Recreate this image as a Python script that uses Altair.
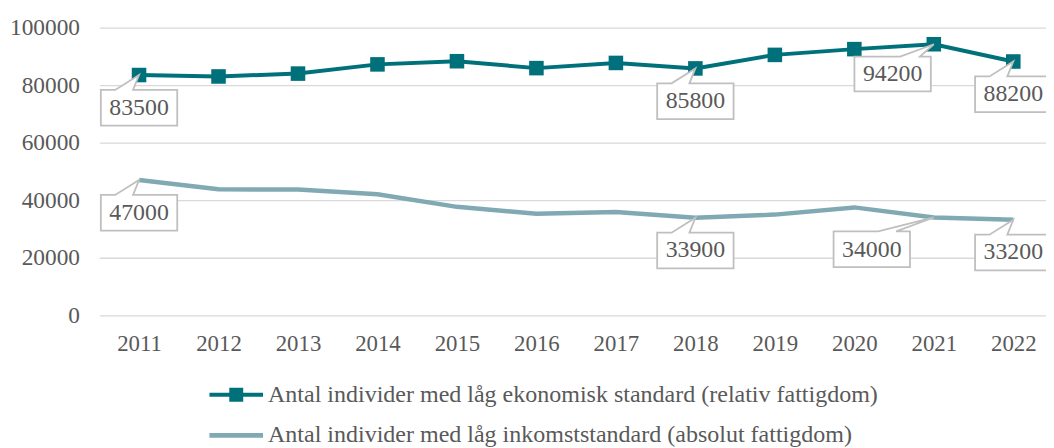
import altair as alt
import pandas as pd

years = [2011, 2012, 2013, 2014, 2015, 2016, 2017, 2018, 2019, 2020, 2021, 2022]
relative_poverty = [83500, 83000, 84000, 87200, 88300, 85900, 87700, 85800, 90500, 92500, 94200, 88200]
absolute_poverty = [47000, 43800, 43700, 42100, 37700, 35300, 35900, 33900, 35000, 37500, 34000, 33200]
series_names = [
    "Antal individer med låg ekonomisk standard (relativ fattigdom)",
    "Antal individer med låg inkomststandard (absolut fattigdom)",
]
# which points carry a value label, and where the label box sits
relative_labels = {2011: "below", 2018: "below", 2021: "left", 2022: "below"}
absolute_labels = {2011: "below", 2018: "below", 2021: "farleft", 2022: "below"}
y_ticks = [0, 20000, 40000, 60000, 80000, 100000]

TEAL = "#00707B"
GREY_BLUE = "#80A9B3"
TEXT = "#595959"
FONT = "Liberation Serif"

rel = pd.DataFrame({"year": years, "value": relative_poverty})
ab = pd.DataFrame({"year": years, "value": absolute_poverty})

labels = pd.DataFrame(
    [{"year": y, "value": relative_poverty[years.index(y)], "pos": p} for y, p in relative_labels.items()]
    + [{"year": y, "value": absolute_poverty[years.index(y)], "pos": p} for y, p in absolute_labels.items()]
)

px_per_year = 80.09
W, H = 954, 290
x_scale = alt.Scale(domain=[2010.5, 2010.5 + W / px_per_year], nice=False, zero=False)
y_scale = alt.Scale(domain=[0, 100000], nice=False)

X = alt.X("year:Q", scale=x_scale,
          axis=alt.Axis(values=years, format="d", title=None, grid=False, domain=False,
                        ticks=False, tickSize=0, labelPadding=17, labelFontSize=23,
                        labelFont=FONT, labelColor=TEXT))
Y = alt.Y("value:Q", scale=y_scale,
          axis=alt.Axis(values=y_ticks, format="d", title=None, domain=False, ticks=False,
                        tickSize=0, labelPadding=20, labelFontSize=23.5, labelFont=FONT,
                        labelColor=TEXT, grid=True, gridColor="#D9D9D9", gridWidth=1.3))

line_abs = alt.Chart(ab).mark_line(color=GREY_BLUE, strokeWidth=4.5).encode(x=X, y=Y)
line_rel = alt.Chart(rel).mark_line(color=TEAL, strokeWidth=4).encode(x=X, y=Y)
pts_rel = alt.Chart(rel).mark_point(shape="square", filled=True, color=TEAL, size=215, opacity=1).encode(x=X, y=Y)

callout_shapes = {
    "below": "M-38.5,15H-24L0,0L-6,15H38.5V51H-38.5Z",
    "left": "M-80,12.5H-34L0,0L-14,12.5H-3V47.5H-80Z",
    "farleft": "M-101,14H-56L0,0L-38,14H-24V50H-101Z",
}
text_offsets = {"below": (0, 33), "left": (-41.5, 30.5), "farleft": (-62.5, 32.5)}

callouts = []
for pos, path in callout_shapes.items():
    base = alt.Chart(labels).transform_filter(alt.datum.pos == pos)
    box = base.mark_point(shape=path, size=4, filled=True, fill="white", stroke="#BFBFBF",
                          strokeWidth=1.8, opacity=1).encode(x=X, y=Y)
    dx, dy = text_offsets[pos]
    txt = base.mark_text(dx=dx, dy=dy, fontSize=24, font=FONT, color=TEXT,
                         align="center", baseline="middle").encode(
        x=X, y=Y, text=alt.Text("value:Q", format="d"))
    callouts += [box, txt]

legend_df = pd.DataFrame({"series": series_names})
leg_paths = [
    "M-1,-0.074H1V0.074H-1Z M-0.26,-0.26H0.26V0.26H-0.26Z",
    "M-1,-0.085H1V0.085H-1Z",
]
leg = alt.Legend(title=None, orient="none", legendX=111, legendY=343, direction="vertical",
                 labelFontSize=24.2, labelFont=FONT, labelColor=TEXT, labelLimit=1200,
                 symbolSize=2916, symbolStrokeWidth=0, symbolOpacity=1, labelOffset=5,
                 rowPadding=1)
legend_layer = alt.Chart(legend_df).mark_point(filled=True, opacity=0).encode(
    color=alt.Color("series:N", scale=alt.Scale(domain=series_names, range=[TEAL, GREY_BLUE]), legend=leg, sort=series_names),
    shape=alt.Shape("series:N", scale=alt.Scale(domain=series_names, range=leg_paths), legend=leg, sort=series_names),
)

chart = alt.layer(line_abs, line_rel, pts_rel, *callouts, legend_layer).properties(
    width=W, height=H,
    autosize=alt.AutoSizeParams(type="none"),
    padding={"left": 92, "top": 18, "right": 0, "bottom": 132},
).configure_view(stroke=None)

chart.save("out.html", embed_options={"renderer": "svg", "actions": False})
